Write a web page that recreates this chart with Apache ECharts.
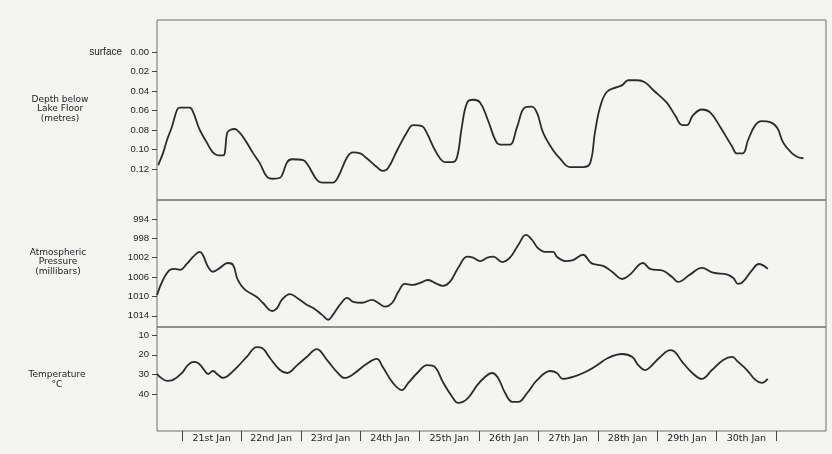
<!DOCTYPE html>
<html>
<head>
<meta charset="utf-8">
<script src="https://cdn.jsdelivr.net/npm/echarts@6/dist/echarts.min.js"></script>
<style>
  html, body { margin: 0; padding: 0; background: #f4f4f2; }
  #chart { width: 832px; height: 454px; }
</style>
</head>
<body>
<div id="chart"></div>
<script>
// time is in days of January (21.0 = start of 21st Jan)
var dayLabels = ['21st Jan', '22nd Jan', '23rd Jan', '24th Jan', '25th Jan',
  '26th Jan', '27th Jan', '28th Jan', '29th Jan', '30th Jan'];
var dayTicks = [21, 22, 23, 24, 25, 26, 27, 28, 29, 30, 31];
var depthTicks = [0, 0.02, 0.04, 0.06, 0.08, 0.10, 0.12];
var pressureTicks = [994, 998, 1002, 1006, 1010, 1014];
var tempTicks = [10, 20, 30, 40];

var depth = [[20.60,0.116],[20.68,0.104],[20.75,0.090],[20.83,0.077],[20.92,0.059],[20.97,0.057],
  [21.13,0.057],[21.19,0.062],[21.30,0.080],[21.42,0.093],[21.52,0.103],[21.61,0.106],[21.69,0.106],
  [21.72,0.104],[21.76,0.083],[21.81,0.080],[21.89,0.079],[21.96,0.082],[22.06,0.090],[22.20,0.104],
  [22.31,0.114],[22.43,0.128],[22.53,0.130],[22.65,0.129],[22.70,0.124],[22.77,0.113],[22.85,0.110],
  [23.04,0.111],[23.12,0.116],[23.27,0.131],[23.37,0.134],[23.54,0.134],[23.63,0.128],[23.78,0.108],
  [23.88,0.103],[24.00,0.104],[24.11,0.109],[24.28,0.118],[24.38,0.122],[24.47,0.119],[24.62,0.101],
  [24.79,0.082],[24.89,0.075],[25.04,0.076],[25.12,0.083],[25.29,0.104],[25.43,0.113],[25.55,0.113],
  [25.63,0.108],[25.71,0.077],[25.80,0.052],[25.90,0.049],[26.02,0.052],[26.15,0.070],[26.30,0.093],
  [26.40,0.095],[26.52,0.095],[26.64,0.077],[26.77,0.057],[26.89,0.056],[26.98,0.063],[27.08,0.083],
  [27.25,0.101],[27.36,0.109],[27.53,0.118],[27.75,0.118],[27.87,0.114],[27.95,0.083],[28.04,0.056],
  [28.15,0.041],[28.32,0.036],[28.41,0.034],[28.51,0.029],[28.66,0.029],[28.79,0.031],[28.93,0.039],
  [29.16,0.052],[29.30,0.065],[29.42,0.075],[29.50,0.075],[29.60,0.065],[29.75,0.059],[29.89,0.062],
  [30.06,0.077],[30.26,0.097],[30.34,0.104],[30.44,0.104],[30.53,0.090],[30.65,0.075],[30.76,0.071],
  [30.90,0.072],[31.02,0.078],[31.12,0.093],[31.27,0.104],[31.37,0.108],[31.46,0.109]];

var pressure = [[20.58,1009.7],[20.68,1006.6],[20.80,1004.5],[20.88,1004.3],[20.97,1004.5],[21.08,1003.3],
  [21.19,1001.8],[21.30,1000.8],[21.35,1001.4],[21.44,1003.9],[21.52,1004.9],[21.64,1004.1],[21.77,1003.1],
  [21.86,1003.5],[21.94,1006.6],[22.06,1008.6],[22.26,1010.1],[22.36,1011.3],[22.52,1013.0],[22.60,1012.4],
  [22.68,1010.7],[22.82,1009.5],[22.94,1010.3],[23.10,1011.7],[23.21,1012.4],[23.36,1013.8],[23.46,1014.8],
  [23.54,1013.8],[23.66,1011.7],[23.78,1010.3],[23.88,1011.1],[24.03,1011.3],[24.20,1010.7],[24.30,1011.3],
  [24.42,1012.1],[24.54,1011.3],[24.64,1009.1],[24.75,1007.4],[24.89,1007.6],[25.01,1007.2],[25.14,1006.6],
  [25.29,1007.4],[25.39,1007.8],[25.51,1007.0],[25.65,1004.1],[25.80,1001.8],[25.90,1002.0],[26.02,1002.7],
  [26.14,1002.0],[26.24,1001.8],[26.39,1002.9],[26.52,1002.0],[26.66,999.4],[26.79,997.3],[26.89,998.3],
  [26.99,1000.0],[27.11,1000.8],[27.25,1000.8],[27.31,1001.8],[27.45,1002.7],[27.58,1002.5],[27.75,1001.4],
  [27.87,1002.9],[27.92,1003.3],[28.09,1003.7],[28.24,1004.9],[28.41,1006.4],[28.54,1005.5],[28.76,1003.1],
  [28.88,1004.3],[29.10,1004.7],[29.25,1006.0],[29.35,1007.0],[29.55,1005.5],[29.75,1004.1],[29.94,1005.1],
  [30.18,1005.5],[30.28,1006.2],[30.36,1007.4],[30.44,1007.0],[30.60,1004.5],[30.71,1003.3],[30.86,1004.3]];

var temperature = [[20.58,29.6],[20.63,31.2],[20.75,33.2],[20.85,32.7],[21.00,29.2],[21.10,25.2],
  [21.19,23.6],[21.27,24.1],[21.35,26.7],[21.44,29.7],[21.52,28.2],[21.61,30.2],[21.69,31.7],[21.77,30.7],
  [21.93,26.2],[22.09,21.1],[22.26,16.1],[22.35,16.6],[22.48,21.6],[22.65,27.7],[22.77,29.2],[22.94,25.2],
  [23.10,21.1],[23.27,17.1],[23.44,22.6],[23.61,28.7],[23.74,31.7],[23.91,29.2],[24.08,25.2],[24.28,22.1],
  [24.38,26.2],[24.55,34.2],[24.70,37.8],[24.81,34.2],[24.96,29.2],[25.13,25.2],[25.26,26.2],[25.39,33.7],
  [25.55,41.3],[25.65,44.3],[25.80,42.3],[25.97,35.3],[26.10,31.2],[26.22,29.2],[26.32,31.7],[26.44,39.3],
  [26.56,43.8],[26.66,43.8],[26.81,39.3],[26.98,32.7],[27.20,28.2],[27.31,29.2],[27.41,32.2],[27.58,31.2],
  [27.79,28.7],[27.99,25.2],[28.17,21.6],[28.41,19.6],[28.58,21.1],[28.68,25.2],[28.80,27.7],[28.88,26.2],
  [29.05,21.1],[29.22,17.6],[29.30,18.6],[29.42,23.6],[29.59,29.2],[29.75,32.2],[29.92,27.7],[30.11,22.6],
  [30.26,21.1],[30.36,23.6],[30.51,27.7],[30.65,32.7],[30.76,34.2],[30.86,32.2]];

var lineCol = '#2b2b2b';
var frameCol = '#6e6e6e';
var numFont = 'Liberation Sans';
var txtFont = 'DejaVu Sans';

var dayMid = dayLabels.map(function (l, i) { return dayTicks[i] + 0.5; });

function xAxisFor(idx, showBottom) {
  return {
    type: 'value', gridIndex: idx, min: 20.58, max: 31.84,
    axisLine: { show: false },
    splitLine: { show: false },
    axisTick: {
      show: showBottom, length: 10, lineStyle: { color: '#444' },
      customValues: dayTicks
    },
    axisLabel: {
      show: showBottom, margin: 3, fontSize: 9.5, fontFamily: txtFont, color: '#222',
      customValues: dayMid,
      formatter: function (v) {
        var i = Math.round(v - 21.5);
        return dayLabels[i] || '';
      }
    }
  };
}

function yAxisFor(idx, min, max, ticks, fmt) {
  return {
    type: 'value', gridIndex: idx, inverse: true, min: min, max: max,
    axisLine: { show: false },
    splitLine: { show: false },
    axisTick: { show: true, length: 5, lineStyle: { color: '#444' }, customValues: ticks },
    axisLabel: {
      margin: 8, fontSize: 9.5, fontFamily: numFont, color: '#222',
      customValues: ticks, formatter: fmt
    }
  };
}

var gridBase = { left: 157, right: 6, show: true, borderColor: frameCol, borderWidth: 1, backgroundColor: 'transparent' };

var option = {
  backgroundColor: '#f4f4f2',
  animation: false,
  grid: [
    Object.assign({}, gridBase, { top: 20, height: 180 }),
    Object.assign({}, gridBase, { top: 200, height: 127 }),
    Object.assign({}, gridBase, { top: 327, height: 104 })
  ],
  xAxis: [xAxisFor(0, false), xAxisFor(1, false), xAxisFor(2, true)],
  yAxis: [
    yAxisFor(0, -0.0328, 0.1518, depthTicks, function (v) { return v.toFixed(2); }),
    yAxisFor(1, 990.1, 1016.3, pressureTicks, function (v) { return String(v); }),
    yAxisFor(2, 5.96, 58.5, tempTicks, function (v) { return String(v); })
  ],
  graphic: [
    { type: 'text', style: { text: 'surface', x: 122, y: 52, textAlign: 'right', textVerticalAlign: 'middle', font: '10px "Liberation Sans"', fill: '#222' } },
    { type: 'text', style: { text: 'Depth below\nLake Floor\n(metres)', x: 60, y: 109, textAlign: 'center', textVerticalAlign: 'middle', font: '9px "DejaVu Sans"', lineHeight: 9.5, fill: '#222' } },
    { type: 'text', style: { text: 'Atmospheric\nPressure\n(millibars)', x: 58, y: 262, textAlign: 'center', textVerticalAlign: 'middle', font: '9px "DejaVu Sans"', lineHeight: 9.7, fill: '#222' } },
    { type: 'text', style: { text: 'Temperature\n°C', x: 57, y: 380, textAlign: 'center', textVerticalAlign: 'middle', font: '9px "DejaVu Sans"', lineHeight: 10, fill: '#222' } }
  ],
  series: [
    { type: 'line', xAxisIndex: 0, yAxisIndex: 0, data: depth, smooth: 0.4, showSymbol: false, lineStyle: { color: lineCol, width: 1.8 } },
    { type: 'line', xAxisIndex: 1, yAxisIndex: 1, data: pressure, smooth: 0.4, showSymbol: false, lineStyle: { color: lineCol, width: 1.8 } },
    { type: 'line', xAxisIndex: 2, yAxisIndex: 2, data: temperature, smooth: 0.4, showSymbol: false, lineStyle: { color: lineCol, width: 1.8 } }
  ]
};

var myChart = echarts.init(document.getElementById('chart'));
myChart.setOption(option);
</script>
</body>
</html>
